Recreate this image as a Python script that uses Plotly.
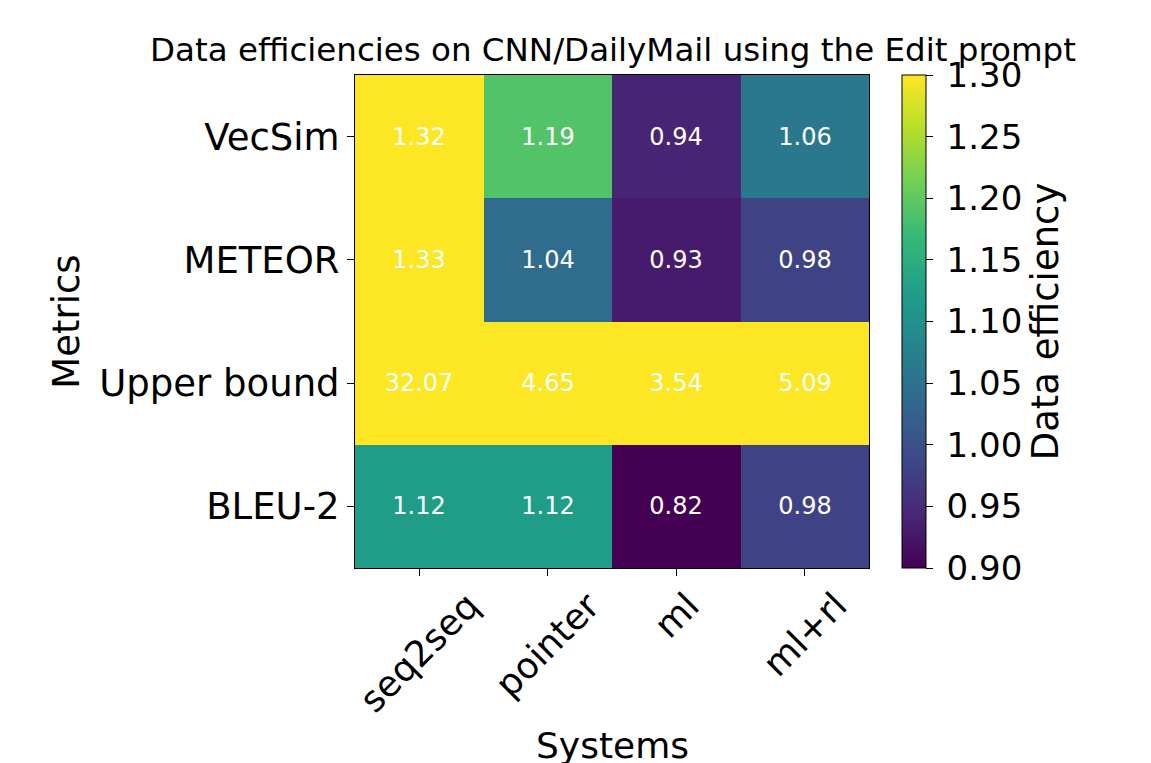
import plotly.graph_objects as go

systems = ["seq2seq", "pointer", "ml", "ml+rl"]
metrics = ["VecSim", "METEOR", "Upper bound", "BLEU-2"]  # top to bottom
vecsim = [1.32, 1.19, 0.94, 1.06]
meteor = [1.33, 1.04, 0.93, 0.98]
upper_bound = [32.07, 4.65, 3.54, 5.09]
bleu2 = [1.12, 1.12, 0.82, 0.98]
z = [vecsim, meteor, upper_bound, bleu2]
cbar_ticks = [0.90, 0.95, 1.00, 1.05, 1.10, 1.15, 1.20, 1.25, 1.30]

FONT = "DejaVu Sans"
L, R, T, B = 355, 282, 75, 195
W, H = 1151, 763
PH = H - T - B

fig = go.Figure(go.Heatmap(
    z=z, x=systems, y=metrics,
    zmin=0.9, zmax=1.3, colorscale="Viridis",
    text=[[f"{v:.2f}" for v in row] for row in z],
    texttemplate="%{text}",
    textfont=dict(family=FONT, size=24, color="white"),
    colorbar=dict(
        thickness=24, len=1, lenmode="fraction", y=0.5, yanchor="middle",
        x=(902 - L) / (W - L - R), xanchor="left", xpad=0, ypad=0,
        outlinecolor="black", outlinewidth=1,
        ticks="outside", ticklen=7, tickwidth=1, tickcolor="black",
        tickvals=cbar_ticks, ticktext=["\u2009" + f"{t:.2f}" for t in cbar_ticks],
        tickfont=dict(family=FONT, size=34, color="black"),
        title=dict(text="Data efficiency", side="right",
                   font=dict(family=FONT, size=37, color="black")),
    ),
))

# x tick labels: rotated 45 degrees, centred under each tick
for s in systems:
    fig.add_annotation(
        x=s, xref="x", y=0, yref="paper", yanchor="top", xanchor="center",
        yshift=-14, text=s, textangle=-45, showarrow=False,
        font=dict(family=FONT, size=36, color="black"),
    )
fig.add_annotation(
    x=0.5, xref="paper", y=-(745 - 568) / PH, yref="paper",
    xanchor="center", yanchor="middle", text="Systems", showarrow=False,
    font=dict(family=FONT, size=36, color="black"),
)

fig.update_layout(
    width=W, height=H,
    margin=dict(l=L, r=R, t=T, b=B),
    paper_bgcolor="white", plot_bgcolor="white",
    font=dict(family=FONT, color="black"),
    title=dict(text="Data efficiencies on CNN/DailyMail using the Edit prompt",
               x=(613 - L) / (W - L - R), xref="paper", xanchor="center",
               y=1 - 50 / H, yref="container", yanchor="middle",
               font=dict(family=FONT, size=32.5, color="black")),
)
fig.update_xaxes(
    range=[-0.5, len(systems) - 0.5], autorange=False,
    showline=True, mirror=True, linecolor="black", linewidth=1,
    ticks="outside", ticklen=7, tickcolor="black", showticklabels=False,
)
fig.update_yaxes(
    range=[len(metrics) - 0.5, -0.5], autorange=False,
    showline=True, mirror=True, linecolor="black", linewidth=1,
    ticks="outside", ticklen=7, tickcolor="black",
    tickfont=dict(family=FONT, size=37),
    title=dict(text="Metrics", font=dict(family=FONT, size=37), standoff=8),
)

fig.write_html("out.html")
